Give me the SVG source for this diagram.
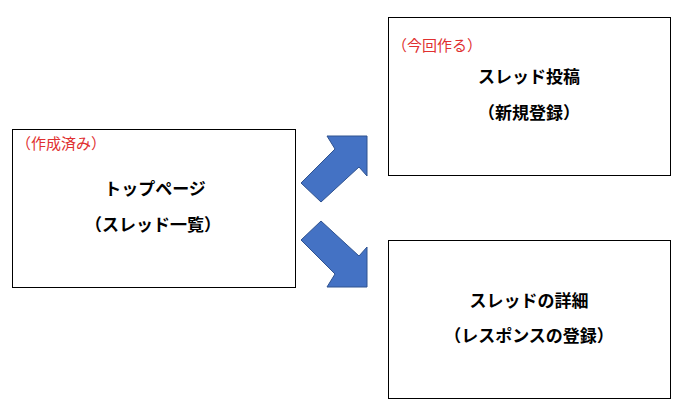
<svg xmlns="http://www.w3.org/2000/svg" width="683" height="415" viewBox="0 0 683 415">
<style>
.box{fill:#fff;stroke:#000;stroke-width:1}
.t{font-family:"Noto Sans CJK JP",sans-serif;font-size:17px;font-weight:bold;text-anchor:middle;fill:#000}
.r{font-family:"Noto Sans CJK JP",sans-serif;font-size:15px;fill:#e03030}
.arr{fill:#4472c4;stroke:#2f528f;stroke-width:1}
</style>
<rect width="683" height="415" fill="#fff"/>
<g id="top">
<rect class="box" x="12.5" y="129.5" width="283" height="158"/>
<text class="r" x="16" y="149">（作成済み）</text>
<text class="t" x="155" y="195">トップページ</text>
<text class="t" x="153" y="231">（スレッド一覧）</text>
</g>
<g id="post">
<rect class="box" x="388.5" y="17.5" width="282" height="158"/>
<text class="r" x="392" y="51">（今回作る）</text>
<text class="t" x="529" y="83">スレッド投稿</text>
<text class="t" x="529" y="119">（新規登録）</text>
</g>
<g id="detail">
<rect class="box" x="388.5" y="240.5" width="282" height="158"/>
<text class="t" x="529" y="307">スレッドの詳細</text>
<text class="t" x="529" y="342">（レスポンスの登録）</text>
</g>
<g id="connectors">
<polygon class="arr" points="301,183 335,149 327,136 367,136 367,176 359,167 321,202"/>
<polygon class="arr" points="301,240 335,274 327,287 367,287 367,247 359,256 321,221"/>
</g>
</svg>
